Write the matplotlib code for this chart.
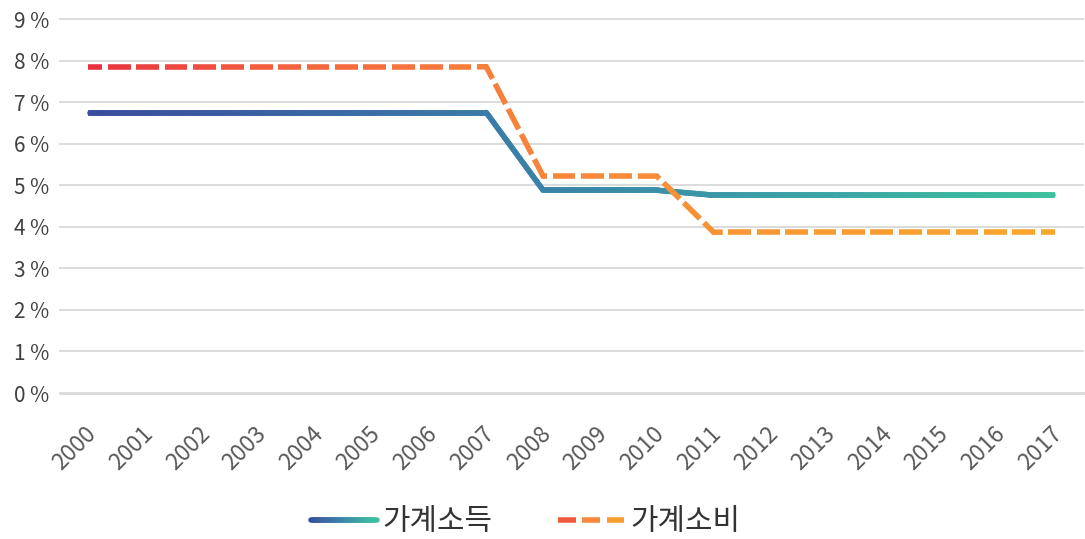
import numpy as np
import matplotlib.pyplot as plt
import matplotlib.transforms as mtransforms
from matplotlib.collections import LineCollection
from matplotlib.colors import LinearSegmentedColormap
from matplotlib.legend_handler import HandlerBase

plt.rcParams['font.family'] = ['Noto Sans CJK KR', 'DejaVu Sans']

# data (percent)
years = ['2000', '2001', '2002', '2003', '2004', '2005', '2006', '2007', '2008',
         '2009', '2010', '2011', '2012', '2013', '2014', '2015', '2016', '2017']
income = [6.75, 6.75, 6.75, 6.75, 6.75, 6.75, 6.75, 6.75, 4.88,
          4.88, 4.88, 4.76, 4.76, 4.76, 4.76, 4.76, 4.76, 4.76]
consumption = [7.85, 7.85, 7.85, 7.85, 7.85, 7.85, 7.85, 7.85, 5.22,
               5.22, 5.22, 3.87, 3.87, 3.87, 3.87, 3.87, 3.87, 3.87]
yticks = [0, 1, 2, 3, 4, 5, 6, 7, 8, 9]
series_names = ['가계소득', '가계소비']

cmap_inc = LinearSegmentedColormap.from_list(
    'inc', [(0, '#3a4c9e'), (0.4, '#3a7aa8'), (0.72, '#3b9fa7'), (1, '#3dc19c')])
cmap_con = LinearSegmentedColormap.from_list(
    'con', [(0, '#e8303f'), (0.2, '#f4623f'), (0.4, '#f67e3c'), (0.7, '#f89834'), (1, '#f9a62d')])

LW = 4.0
DASH, GAP, OFFSET = 22.7, 5.7, 9.0   # pixels

fig = plt.figure(figsize=(10.85, 5.39), dpi=100)
ax = fig.add_axes([60 / 1085, 1 - 393 / 539, 1023 / 1085, 374 / 539])
x = np.arange(len(years))
ax.set_xlim(-0.5, len(years) - 0.5)
ax.set_ylim(0, 9)


def solid_gradient(ax, xs, ys, cmap, n=40):
    segs, cols = [], []
    for i in range(len(xs) - 1):
        t = np.linspace(0, 1, n + 1)
        px = xs[i] + (xs[i + 1] - xs[i]) * t
        py = ys[i] + (ys[i + 1] - ys[i]) * t
        for j in range(n):
            segs.append([(px[j], py[j]), (px[j + 1], py[j + 1])])
            cols.append(cmap(((px[j] + px[j + 1]) / 2) / xs[-1]))
    # round caps inside so the bends stay smooth, butt caps at both ends
    ax.add_collection(LineCollection(segs[1:-1], colors=cols[1:-1], linewidths=LW,
                                     capstyle='round', zorder=3))
    ax.add_collection(LineCollection([segs[0], segs[-1]], colors=[cols[0], cols[-1]],
                                     linewidths=LW, capstyle='butt', zorder=3))


def dashed_gradient(ax, xs, ys, cmap):
    # walk the line in pixel space and cut it into dashes
    pts = ax.transData.transform(np.column_stack([xs, ys]))
    seglen = np.hypot(*np.diff(pts, axis=0).T)
    cum = np.concatenate([[0], np.cumsum(seglen)])
    total = cum[-1]

    def at(s):
        k = min(np.searchsorted(cum, s, side='right') - 1, len(seglen) - 1)
        f = (s - cum[k]) / seglen[k] if seglen[k] > 0 else 0
        return pts[k] + (pts[k + 1] - pts[k]) * f

    period = DASH + GAP
    s = -OFFSET
    segs, cols = [], []
    while s < total:
        a, b = max(s, 0), min(s + DASH, total)
        if b > a:
            inner = [k for k, c in enumerate(cum) if a < c < b]
            line = [at(a)] + [pts[k] for k in inner] + [at(b)]
            segs.append(ax.transData.inverted().transform(np.array(line)))
            mid = ax.transData.inverted().transform([at((a + b) / 2)])[0]
            cols.append(cmap(mid[0] / xs[-1]))
        s += period
    lc = LineCollection(segs, colors=cols, linewidths=LW, capstyle='butt',
                        joinstyle='miter', zorder=3)
    ax.add_collection(lc)


solid_gradient(ax, x, income, cmap_inc)
dashed_gradient(ax, x, consumption, cmap_con)

# grid
for v in yticks:
    ax.axhline(v, color='#d9d9d9', lw=2.0 if v == 0 else 1.3, zorder=1, clip_on=False)

for sp in ax.spines.values():
    sp.set_visible(False)
ax.set_yticks(yticks)
ax.set_yticklabels([f'{v} %' for v in yticks], fontsize=15, color='#404040')
ax.set_xticks(x)
ax.set_xticklabels(years, rotation=45, ha='right', va='center', rotation_mode='anchor',
                   fontsize=16.5, color='#595959')
ax.tick_params(axis='both', length=0)
ax.tick_params(axis='y', pad=8)
ax.tick_params(axis='x', pad=27)
shift = mtransforms.ScaledTranslation(4 / 100, 0, fig.dpi_scale_trans)
for lab in ax.get_xticklabels():
    lab.set_transform(lab.get_transform() + shift)


class GradHandler(HandlerBase):
    def __init__(self, cmap, dashed):
        super().__init__()
        self.cmap = cmap
        self.dashed = dashed

    def create_artists(self, legend, orig_handle, xdescent, ydescent, width, height,
                       fontsize, trans):
        y = height / 2 - ydescent
        segs, cols = [], []
        if self.dashed:
            n = 3
            gap = width * 0.1
            d = (width - gap * (n - 1)) / n
            for i in range(n):
                x0 = -xdescent + i * (d + gap)
                segs.append([(x0, y), (x0 + d, y)])
                cols.append(self.cmap((i + 0.5) / n))
            cap = 'butt'
        else:
            n = 30
            xs = np.linspace(-xdescent, -xdescent + width, n + 1)
            for j in range(n):
                segs.append([(xs[j], y), (xs[j + 1], y)])
                cols.append(self.cmap((j + 0.5) / n))
            cap = 'round'
        return [LineCollection(segs, colors=cols, linewidths=LW, capstyle=cap,
                               transform=trans)]


h1 = plt.Line2D([], [])
h2 = plt.Line2D([], [])
fig.legend([h1, h2], series_names, loc='center',
           bbox_to_anchor=(0.5 - 17 / 1085, 1 - 522 / 539),
           ncol=2, frameon=False, fontsize=21.5, handlelength=2.2, handletextpad=0.2,
           columnspacing=2.2, labelcolor='#333333',
           handler_map={h1: GradHandler(cmap_inc, False), h2: GradHandler(cmap_con, True)})

fig.savefig('out.png', dpi=100)
